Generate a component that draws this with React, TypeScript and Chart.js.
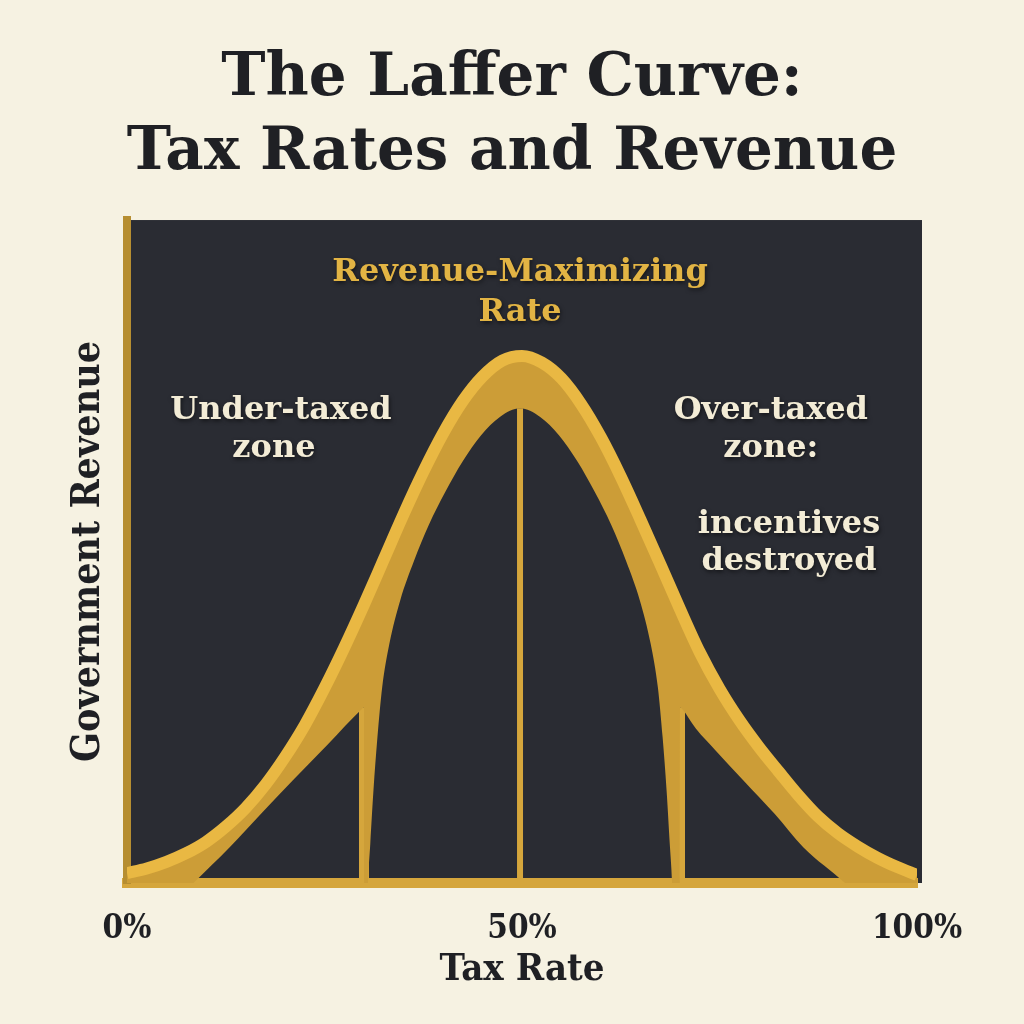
import React, { useEffect, useRef } from 'react';
import { Chart, registerables } from 'chart.js';

Chart.register(...registerables);

// ---- data (tax rate in %, revenue in relative units 0-100) ----
const TAX_RATE = [
  0, 2.5, 5, 7.5, 10, 12.5, 15, 17.5, 20, 22.5, 25, 27.5, 30, 32.5, 35, 37.5, 40, 42.5, 45, 47.5,
  50, 52.5, 55, 57.5, 60, 62.5, 65, 67.5, 70, 72.5, 75, 77.5, 80, 82.5, 85, 87.5, 90, 92.5, 95, 97.5, 100,
];
const REVENUE = [
  1.5, 2.2, 3.2, 4.5, 6.2, 8.5, 11.3, 14.8, 19.0, 23.8, 29.4, 35.5, 42.0, 48.8, 55.6, 62.0, 67.8, 72.7, 76.4, 78.8,
  79.5, 78.5, 76.1, 72.2, 67.2, 61.3, 54.8, 48.1, 41.3, 34.8, 29.3, 24.6, 20.5, 16.8, 13.2, 10.0, 7.5, 5.5, 3.8, 2.4, 1.2,
];
// inner edge of the golden band (shadow band + central arch); values below 0 run off the plot floor
const BAND_RATE = [
  0, 8.4, 13, 17, 21, 25.5, 29.7, 30, 30.05, 30.35,
  30.5, 30.8, 31.2, 31.7, 32.3, 33.2, 34.6, 36.3, 38.2, 40.3, 42.5, 44.8, 47.2, 49.75,
  52.3, 54.7, 57.0, 59.2, 61.3, 63.2, 64.9, 66.3, 67.2, 67.8, 68.3, 68.7, 69.0,
  69.15, 69.95, 70, 70.3, 72, 74.5, 78, 82, 85.6, 90.9, 100,
];
const BAND_EDGE = [
  -9.8, 0, 5.4, 10.5, 15.5, 21.0, 26.2, 26.5, -20, -6,
  0, 6, 14, 22, 29.5, 36, 42.7, 48.5, 54, 59, 63.6, 67.5, 70.3, 71.6,
  70.3, 67.5, 63.6, 59, 54, 48.5, 42.7, 36, 29.5, 22, 14, 6, 0,
  -6, -20, 26.5, 26.2, 23.3, 20.0, 15.5, 10.4, 5.4, 0, -10.7,
];
const SIDE_RATES = [30, 70];
const SIDE_TOP = 26.5;
const PEAK_RATE = 49.75;
const PEAK_TOP = 71.6;
const X_TICKS = [0, 50, 100];

const TITLE = ['The Laffer Curve:', 'Tax Rates and Revenue'];
const X_TITLE = 'Tax Rate';
const Y_TITLE = 'Government Revenue';

type Note = { text: string; x: number; y: number; size: number; color: string };
const NOTES: Note[] = [
  { text: 'Revenue-Maximizing', x: 49.75, y: 92.0, size: 32, color: '#e2b444' },
  { text: 'Rate', x: 49.75, y: 86.0, size: 32, color: '#e2b444' },
  { text: 'Under-taxed', x: 19.5, y: 71.3, size: 32, color: '#f3ecd6' },
  { text: 'zone', x: 18.6, y: 65.5, size: 32, color: '#f3ecd6' },
  { text: 'Over-taxed', x: 81.5, y: 71.3, size: 32, color: '#f3ecd6' },
  { text: 'zone:', x: 81.5, y: 65.5, size: 32, color: '#f3ecd6' },
  { text: 'incentives', x: 83.8, y: 54.1, size: 32, color: '#f3ecd6' },
  { text: 'destroyed', x: 83.8, y: 48.4, size: 32, color: '#f3ecd6' },
];

// ---- styles ----
const CREAM = '#f6f2e2';
const DARK = '#2a2c33';
const INK = '#1f2024';
const GOLD_BRIGHT = '#e9b843';
const GOLD_DARK = '#cc9d37';
const GOLD_LINE = '#d5a63c';
const SERIF = "'DejaVu Serif', serif";
const SERIF_C = "'DejaVu Serif Condensed', 'DejaVu Serif', serif";

const bgPlugin = {
  id: 'bg',
  beforeDraw(chart: any) {
    const { ctx, chartArea: a, width, height } = chart;
    ctx.save();
    ctx.fillStyle = CREAM;
    ctx.fillRect(0, 0, width, height);
    ctx.fillStyle = DARK;
    ctx.fillRect(a.left, a.top, a.right - a.left + 5, a.bottom - a.top);
    ctx.restore();
  },
};

const notesPlugin = {
  id: 'notes',
  afterDatasetsDraw(chart: any) {
    const { ctx, scales } = chart;
    const xs = scales.x;
    const ys = scales.y;
    ctx.save();
    ctx.textAlign = 'center';
    ctx.textBaseline = 'middle';
    ctx.shadowColor = 'rgba(0,0,0,0.55)';
    ctx.shadowBlur = 4;
    ctx.shadowOffsetX = 1;
    ctx.shadowOffsetY = 2;
    for (const n of NOTES) {
      ctx.font = `bold ${n.size}px ${SERIF}`;
      ctx.fillStyle = n.color;
      ctx.fillText(n.text, xs.getPixelForValue(n.x), ys.getPixelForValue(n.y));
    }
    ctx.restore();
  },
};

export default function App() {
  const ref = useRef<HTMLCanvasElement | null>(null);

  useEffect(() => {
    if (!ref.current) return;
    const sideSets = SIDE_RATES.map((r) => ({
      label: 'side',
      data: [
        { x: r, y: 0 },
        { x: r, y: SIDE_TOP },
      ],
      borderColor: GOLD_LINE,
      borderWidth: 10,
      pointRadius: 0,
      fill: false,
      borderCapStyle: 'butt',
    }));
    const chart = new Chart(ref.current, {
      type: 'line',
      data: {
        datasets: [
          {
            label: 'Revenue',
            data: TAX_RATE.map((x, i) => ({ x, y: REVENUE[i] })),
            borderColor: GOLD_BRIGHT,
            borderWidth: 12,
            backgroundColor: GOLD_DARK,
            fill: 1,
            pointRadius: 0,
            cubicInterpolationMode: 'monotone',
          },
          {
            label: 'band',
            data: BAND_RATE.map((x, i) => ({ x, y: BAND_EDGE[i] })),
            borderColor: 'rgba(0,0,0,0)',
            borderWidth: 0,
            pointRadius: 0,
            fill: false,
            cubicInterpolationMode: 'monotone',
          },
          {
            label: 'peak',
            data: [
              { x: PEAK_RATE, y: 0 },
              { x: PEAK_RATE, y: PEAK_TOP },
            ],
            borderColor: GOLD_LINE,
            borderWidth: 6,
            pointRadius: 0,
            fill: false,
          },
          ...sideSets,
        ] as any,
      },
      options: {
        responsive: false,
        animation: false,
        events: [],
        layout: { padding: 0 },
        plugins: {
          legend: { display: false },
          tooltip: { enabled: false },
          title: {
            display: true,
            text: TITLE,
            color: INK,
            font: { family: SERIF, size: 59.5, weight: 'bold', lineHeight: 1.244 },
            padding: { top: 43, bottom: 29 },
          },
        },
        scales: {
          x: {
            type: 'linear',
            min: 0,
            max: 100,
            afterBuildTicks: (s: any) => {
              s.ticks = X_TICKS.map((v) => ({ value: v }));
            },
            afterFit: (s: any) => {
              s.height = 141;
            },
            grid: { display: false },
            border: { display: true, color: GOLD_LINE, width: 10 },
            ticks: {
              callback: (v: any) => `${v}%`,
              color: INK,
              font: { family: SERIF_C, size: 33, weight: 'bold', lineHeight: 1.2 },
              padding: 19,
              maxRotation: 0,
              autoSkip: false,
            },
            title: {
              display: true,
              text: X_TITLE,
              color: INK,
              font: { family: SERIF_C, size: 38, weight: 'bold', lineHeight: 1.2 },
              padding: { top: 0, bottom: 31 },
            },
          },
          y: {
            min: 0,
            max: 100,
            afterFit: (s: any) => {
              s.width = 127;
            },
            grid: { display: false },
            border: { display: true, color: '#b68e31', width: 8 },
            ticks: { display: false },
            title: {
              display: true,
              text: Y_TITLE,
              color: INK,
              font: { family: SERIF_C, size: 39, weight: 'bold', lineHeight: 1.2 },
              padding: { top: 65, bottom: 0 },
            },
          },
          yRight: {
            position: 'right',
            min: 0,
            max: 100,
            afterFit: (s: any) => {
              s.width = 107;
            },
            grid: { display: false },
            border: { display: false },
            ticks: { display: false },
          },
        },
      } as any,
      plugins: [bgPlugin, notesPlugin],
    });
    return () => chart.destroy();
  }, []);

  return (
    <div style={{ position: 'fixed', left: 0, top: 0, width: 1024, height: 1024, background: CREAM }}>
      <canvas ref={ref} width={1024} height={1024} style={{ display: 'block', width: 1024, height: 1024 }} />
    </div>
  );
}
